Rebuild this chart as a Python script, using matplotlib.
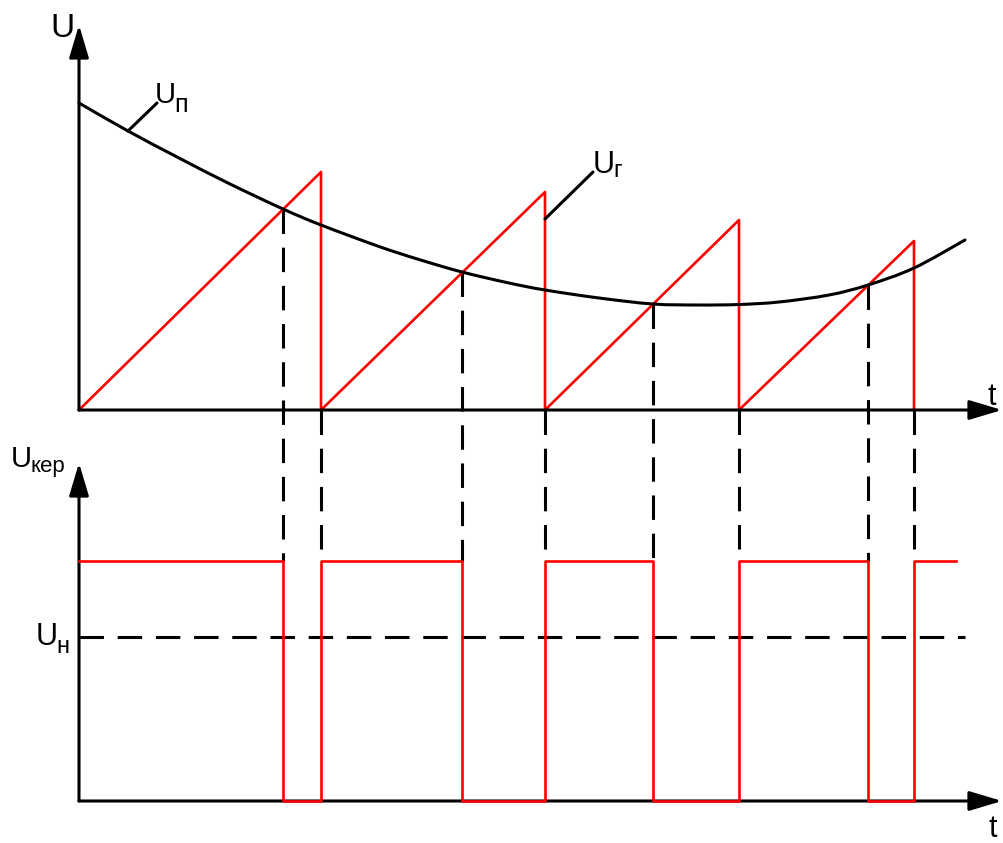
import numpy as np
import matplotlib
matplotlib.use("Agg")
import matplotlib.pyplot as plt
from matplotlib.path import Path
from matplotlib.patches import PathPatch

W, H, DPI = 1004, 843, 100

# Sawtooth generator U_г: ramp start times, reset times and peak voltages
ramp_start = [0.0, 2.42, 4.66, 6.60]
ramp_reset = [2.42, 4.66, 6.60, 8.35]
ramp_peak = [2.38, 2.18, 1.90, 1.69]

# Supply voltage U_п
supply_t = [0.0, 0.49, 1.0, 1.5, 2.04, 2.42, 3.0, 3.4, 3.83, 4.3, 4.66,
            5.2, 5.74, 6.2, 6.6, 7.0, 7.5, 7.89, 8.35, 8.86]
supply_u = [3.07, 2.79, 2.52, 2.265, 2.01, 1.85, 1.635, 1.505, 1.38, 1.27, 1.20,
            1.12, 1.06, 1.05, 1.055, 1.08, 1.15, 1.25, 1.42, 1.70]

# Instants where the ramp reaches U_п (key switches off)
cross_t = [2.04, 3.83, 5.74, 7.89]

# Key control voltage U_кер and threshold U_н
u_ker_high = 2.40
u_n = 1.64
t_end = 8.77

# Vertical placement of the two panels on the common canvas
BASE_TOP = 0.0
BASE_BOT = -3.91

RED = "#ff0000"
LW = 2.2
DASH = (0, (8, 4.5))

fig = plt.figure(figsize=(W / DPI, H / DPI), dpi=DPI)
ax = fig.add_axes([0, 0, 1, 1])
ax.set_xlim(-0.79, 9.25)
ax.set_ylim(-4.33, 4.10)
ax.axis("off")


def arrow(x0, y0, x1, y1):
    ax.annotate("", xy=(x1, y1), xytext=(x0, y0),
                arrowprops=dict(arrowstyle="-|>,head_length=2.0,head_width=0.6",
                                mutation_scale=10, lw=LW, color="k",
                                shrinkA=0, shrinkB=0), zorder=4)


def smooth_path(xs, ys):
    """Bezier path passing through every given point (Catmull-Rom tangents)."""
    p = np.column_stack([xs, ys]).astype(float)
    n = len(p)
    verts = [p[0]]
    codes = [Path.MOVETO]
    for i in range(n - 1):
        p0 = p[i - 1] if i > 0 else p[i]
        p3 = p[i + 2] if i + 2 < n else p[i + 1]
        c1 = p[i] + (p[i + 1] - p0) / 6.0
        c2 = p[i + 1] - (p3 - p[i]) / 6.0
        verts += [c1, c2, p[i + 1]]
        codes += [Path.CURVE4] * 3
    return Path(verts, codes)


# Axes with arrows
arrow(0, BASE_TOP, 0, 3.85)
arrow(0, BASE_TOP, 9.23, BASE_TOP)
arrow(0, BASE_BOT, 0, -0.53)
arrow(0, BASE_BOT, 9.23, BASE_BOT)

# Supply curve
ax.add_patch(PathPatch(smooth_path(supply_t, supply_u), facecolor="none",
                       edgecolor="k", lw=LW, capstyle="round", zorder=3))

# Sawtooth
saw_t, saw_u = [], []
for s, r, p in zip(ramp_start, ramp_reset, ramp_peak):
    saw_t += [s, r, r]
    saw_u += [BASE_TOP, BASE_TOP + p, BASE_TOP]
ax.plot(saw_t, saw_u, color=RED, lw=1.9, zorder=2)

# Key pulses
key_t, key_u = [0.0], [BASE_BOT + u_ker_high]
for c, r in zip(cross_t, ramp_reset):
    key_t += [c, c, r, r]
    key_u += [BASE_BOT + u_ker_high, BASE_BOT, BASE_BOT, BASE_BOT + u_ker_high]
key_t.append(t_end)
key_u.append(BASE_BOT + u_ker_high)
ax.plot(key_t, key_u, color=RED, lw=1.9, zorder=5)

# Projection lines between panels
cross_u = np.interp(cross_t, supply_t, supply_u)
for c, cu in zip(cross_t, cross_u):
    ax.plot([c, c], [BASE_TOP + cu, BASE_BOT + u_ker_high], color="k",
            lw=LW, ls=DASH, zorder=1)
for r in ramp_reset:
    ax.plot([r, r], [BASE_TOP, BASE_BOT + u_ker_high], color="k",
            lw=LW, ls=DASH, zorder=1)

# Threshold line
ax.plot([0, supply_t[-1]], [BASE_BOT + u_n] * 2, color="k", lw=LW, ls=DASH,
        zorder=1)

# Leader lines for the curve labels
ax.annotate("", xy=(supply_t[1], supply_u[1]), xytext=(29, 28),
            textcoords="offset pixels",
            arrowprops=dict(arrowstyle="-", lw=LW, color="k",
                            shrinkA=0, shrinkB=0))
ax.annotate("", xy=(ramp_reset[1], ramp_peak[1] - 0.27), xytext=(48, 47),
            textcoords="offset pixels",
            arrowprops=dict(arrowstyle="-", lw=LW, color="k",
                            shrinkA=0, shrinkB=0))

FONT = "Liberation Sans"
renderer = fig.canvas.get_renderer()


def label(x, y, main, size, sub=None, sub_size=None, drop=0):
    t = fig.text(x / W, 1 - y / H, main, fontsize=size, family=FONT,
                 ha="left", va="baseline")
    if sub:
        bb = t.get_window_extent(renderer)
        fig.text((bb.x1 - 1.5) / W, 1 - (y + drop) / H, sub, fontsize=sub_size,
                 family=FONT, ha="left", va="baseline")


label(50, 37, "U", 24)
label(155, 103, "U", 21, "п", 18, 9)
label(593, 173, "U", 22, "г", 17, 4)
label(11, 467, "U", 21, "кер", 16, 5)
label(36, 645, "U", 22, "н", 17, 8)
label(988, 405, "t", 22)
label(989, 837, "t", 22)

fig.savefig("out.png", dpi=DPI)
